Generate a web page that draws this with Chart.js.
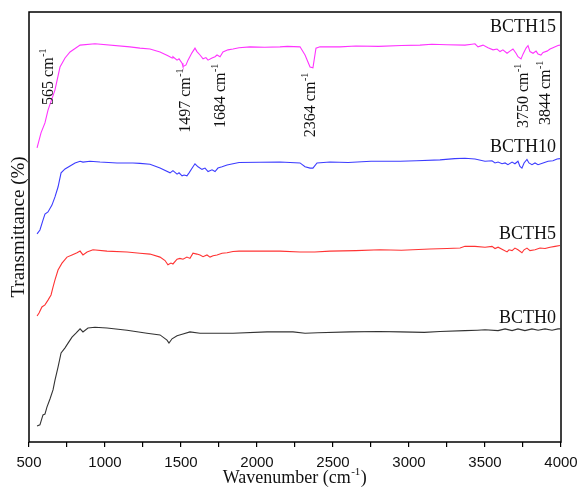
<!DOCTYPE html>
<html lang="en">
<head>
  <meta charset="UTF-8" />
  <title>FTIR Spectra BCTH</title>
  <script src="https://cdn.jsdelivr.net/npm/chart.js"></script>
  <style>
    html, body { margin: 0; padding: 0; background: #fff; }
  </style>
</head>
<body>
  <canvas id="ftirChart" width="580" height="490"></canvas>

  <script>
    // Spectra (wavenumber in cm-1, transmittance in arbitrary %)
    const bcth15Wave = [553,579,605,625,671,704,737,770,836,934,1164,1230,1296,1362,1414,1441,1447,1474,1487,1507,1513,1533,1546,1572,1592,1605,1625,1645,1664,1678,1704,1724,1737,1757,1776,1809,1842,1882,1954,2050,2151,2200,2283,2316,2349,2368,2388,2414,2546,2650,2800,2950,3072,3150,3250,3368,3414,3434,3454,3487,3520,3553,3579,3599,3618,3645,3664,3684,3704,3717,3737,3750,3770,3783,3796,3816,3836,3849,3868,3882,3908,3928,3947,3980,3993];
    const bcth15T = [68.4,71.9,74.2,77.2,81.9,87.2,89.3,90.7,92.3,92.6,91.9,91.6,91.4,90.7,89.8,89.3,89.6,88.8,89.1,88.1,87.3,87.7,88.8,90.5,91.6,90.8,90.0,89.1,89.4,88.8,89.3,89.6,90.0,89.6,90.7,91.2,91.4,91.7,91.9,91.8,91.9,92.0,91.9,90.0,87.2,87.0,91.6,91.9,91.9,92.1,92.0,92.2,92.3,92.5,92.4,92.3,92.5,92.6,91.9,92.3,91.7,91.2,91.4,90.8,91.2,90.4,90.9,91.4,90.4,89.6,89.1,90.2,91.6,92.2,90.8,90.4,90.9,90.2,90.0,90.6,90.9,91.4,91.7,92.2,92.3];

    const bcth10Wave = [553,572,592,605,625,651,671,691,711,737,770,803,836,855,901,967,1079,1184,1230,1296,1362,1428,1447,1474,1487,1507,1520,1539,1553,1579,1592,1612,1638,1658,1678,1704,1724,1743,1770,1803,1842,1882,2151,2283,2316,2349,2368,2395,2480,2600,2750,2941,3050,3204,3300,3368,3434,3500,3546,3566,3586,3612,3632,3651,3678,3697,3717,3730,3743,3757,3776,3789,3809,3829,3849,3882,3915,3947,3974,3993];
    const bcth10T = [48.4,49.3,51.6,53.0,53.5,55.1,57.0,59.3,62.6,63.5,64.2,64.9,65.3,65.1,65.3,65.1,64.9,64.9,64.8,64.6,63.7,62.6,63.1,62.3,62.6,61.9,62.1,61.9,62.6,64.0,64.7,64.0,63.4,63.7,62.9,63.3,62.9,63.7,64.0,64.4,64.7,65.0,65.1,64.9,64.0,63.7,63.7,64.9,65.1,65.0,65.3,65.3,65.4,65.6,65.9,66.0,65.8,65.3,65.4,64.9,65.1,64.7,64.9,64.5,65.1,64.7,65.3,64.1,63.7,64.9,65.7,64.9,64.5,64.9,64.5,64.9,65.3,65.4,65.8,65.9];

    const bcth5Wave = [553,566,585,605,625,645,658,671,691,717,750,783,816,836,855,882,921,1013,1145,1230,1296,1362,1395,1414,1434,1447,1474,1493,1513,1539,1559,1579,1605,1625,1645,1671,1691,1711,1737,1770,1803,1842,1882,2151,2283,2380,2480,2650,2809,2950,3138,3250,3336,3368,3434,3500,3546,3566,3586,3618,3645,3658,3678,3697,3717,3743,3757,3776,3796,3829,3862,3895,3928,3961,3993];
    const bcth5T = [29.3,30.0,31.4,31.9,33.0,34.2,36.0,37.7,40.0,41.6,43.0,43.5,44.0,44.4,43.5,44.2,44.7,44.4,44.2,43.9,43.7,43.0,42.2,41.2,41.6,41.4,42.5,42.7,42.5,43.0,42.7,43.9,43.7,43.5,43.1,43.5,43.0,43.3,43.5,43.9,44.0,44.3,44.4,44.4,44.2,44.2,44.4,44.5,44.7,44.6,44.9,45.0,45.1,45.5,45.5,45.3,45.5,45.0,45.3,44.7,44.2,44.7,44.5,45.1,44.7,44.0,44.7,45.1,44.5,44.7,45.1,45.0,45.3,45.5,45.7];

    const bcth0Wave = [553,572,592,605,618,638,658,671,691,711,737,757,783,809,836,855,888,934,1013,1145,1276,1362,1408,1421,1441,1474,1513,1559,1625,1842,2066,2237,2316,2400,2612,2800,2941,3100,3204,3368,3450,3500,3586,3632,3678,3717,3763,3809,3849,3895,3941,3980,3995];
    const bcth0T = [3.7,4.0,6.3,6.5,8.1,10.0,12.1,14.4,17.4,20.7,21.9,23.0,24.4,25.3,26.3,25.6,26.5,26.7,26.5,26.0,25.3,24.9,23.7,23.0,24.0,24.7,25.1,25.6,25.3,25.3,25.6,25.6,25.3,25.4,25.6,25.7,25.6,25.5,25.7,25.9,26.0,26.1,25.9,26.3,25.9,26.3,25.9,26.3,26.0,26.3,26.0,26.3,26.3];

    // Series names, colours and where their names sit (transmittance of the baseline)
    const seriesNames = ["BCTH15", "BCTH10", "BCTH5", "BCTH0"];
    const seriesColors = ["#ff33ff", "#3c3cff", "#ff3333", "#333333"];
    const seriesLabelT = [95.3, 67.4, 47.2, 27.7];

    // Peak annotations: text, wavenumber of the text baseline, transmittance where it starts
    const peakLabels = ["565", "1497", "1684", "2364", "3750", "3844"];
    const peakLabelWave = [658, 1559, 1789, 2382, 3783, 3928];
    const peakLabelT = [78.4, 71.9, 73.0, 70.9, 73.0, 73.7];

    const xTicks = [500, 1000, 1500, 2000, 2500, 3000, 3500, 4000];

    const toPoints = (w, t) => w.map((x, i) => ({ x: x, y: t[i] }));
    const seriesData = [
      toPoints(bcth15Wave, bcth15T),
      toPoints(bcth10Wave, bcth10T),
      toPoints(bcth5Wave, bcth5T),
      toPoints(bcth0Wave, bcth0T)
    ];

    const serif = "'Liberation Serif', 'Times New Roman', serif";

    // text followed by a superscript (and optional tail)
    function textWithSup(ctx, main, sup, tail, size, x, y) {
      ctx.font = size + "px " + serif;
      ctx.fillText(main, x, y);
      let w = ctx.measureText(main).width;
      ctx.font = Math.round(size * 0.62) + "px " + serif;
      ctx.fillText(sup, x + w + 0.5, y - size * 0.42);
      w += ctx.measureText(sup).width + 1;
      if (tail) {
        ctx.font = size + "px " + serif;
        ctx.fillText(tail, x + w, y);
        w += ctx.measureText(tail).width;
      }
      return w;
    }

    function measureWithSup(ctx, main, sup, tail, size) {
      ctx.font = size + "px " + serif;
      let w = ctx.measureText(main).width + (tail ? ctx.measureText(tail).width : 0);
      ctx.font = Math.round(size * 0.62) + "px " + serif;
      return w + ctx.measureText(sup).width + 1.5;
    }

    const decorations = {
      id: "decorations",
      afterDraw(chart) {
        const ctx = chart.ctx;
        const area = chart.chartArea;
        const xs = chart.scales.x;
        const ys = chart.scales.y;
        ctx.save();

        // frame
        ctx.strokeStyle = "#000";
        ctx.lineWidth = 1.5;
        ctx.strokeRect(area.left, area.top, area.right - area.left, area.bottom - area.top);

        ctx.fillStyle = "#111";
        ctx.textBaseline = "alphabetic";

        // series names, right aligned
        ctx.font = "18px " + serif;
        ctx.textAlign = "right";
        seriesNames.forEach((name, i) => {
          ctx.fillText(name, area.right - 5, ys.getPixelForValue(seriesLabelT[i]));
        });

        // peak annotations, rotated
        ctx.textAlign = "left";
        peakLabels.forEach((txt, i) => {
          ctx.save();
          ctx.translate(xs.getPixelForValue(peakLabelWave[i]), ys.getPixelForValue(peakLabelT[i]));
          ctx.rotate(-Math.PI / 2);
          textWithSup(ctx, txt + " cm", "-1", "", 16, 0, 0);
          ctx.restore();
        });

        // x axis title
        const tw = measureWithSup(ctx, "Wavenumber (cm", "-1", ")", 18);
        textWithSup(ctx, "Wavenumber (cm", "-1", ")", 18, (area.left + area.right) / 2 - tw / 2, 483);

        // y axis title
        ctx.save();
        ctx.translate(24, (area.top + area.bottom) / 2);
        ctx.rotate(-Math.PI / 2);
        ctx.font = "19px " + serif;
        ctx.textAlign = "center";
        ctx.fillText("Transmittance (%)", 0, 0);
        ctx.restore();

        ctx.restore();
      }
    };

    new Chart(document.getElementById("ftirChart").getContext("2d"), {
      type: "line",
      data: {
        datasets: seriesNames.map((name, i) => ({
          label: name,
          data: seriesData[i],
          borderColor: seriesColors[i],
          borderWidth: 1.1,
          pointRadius: 0,
          tension: 0,
          fill: false
        }))
      },
      options: {
        responsive: false,
        animation: false,
        layout: { padding: { left: 29, top: 12, right: 19, bottom: 0 } },
        plugins: {
          legend: { display: false },
          tooltip: { enabled: false }
        },
        scales: {
          x: {
            type: "linear",
            min: 500,
            max: 4000,
            afterFit: (scale) => {
              // fixed axis band; edge labels fit inside the layout padding
              scale.height = 48;
              scale.paddingLeft = 0;
              scale.paddingRight = 0;
            },
            border: { display: false },
            grid: {
              drawOnChartArea: false,
              drawTicks: true,
              tickLength: 5,
              color: "#000",
              lineWidth: 1.2
            },
            ticks: {
              stepSize: 250,
              autoSkip: false,
              maxRotation: 0,
              padding: 7,
              color: "#111",
              font: { family: "'Liberation Sans', Arial, sans-serif", size: 15 },
              callback: (v) => (xTicks.includes(v) ? String(v) : "")
            }
          },
          y: {
            display: false,
            min: 0,
            max: 100
          }
        }
      },
      plugins: [decorations]
    });
  </script>
</body>
</html>
